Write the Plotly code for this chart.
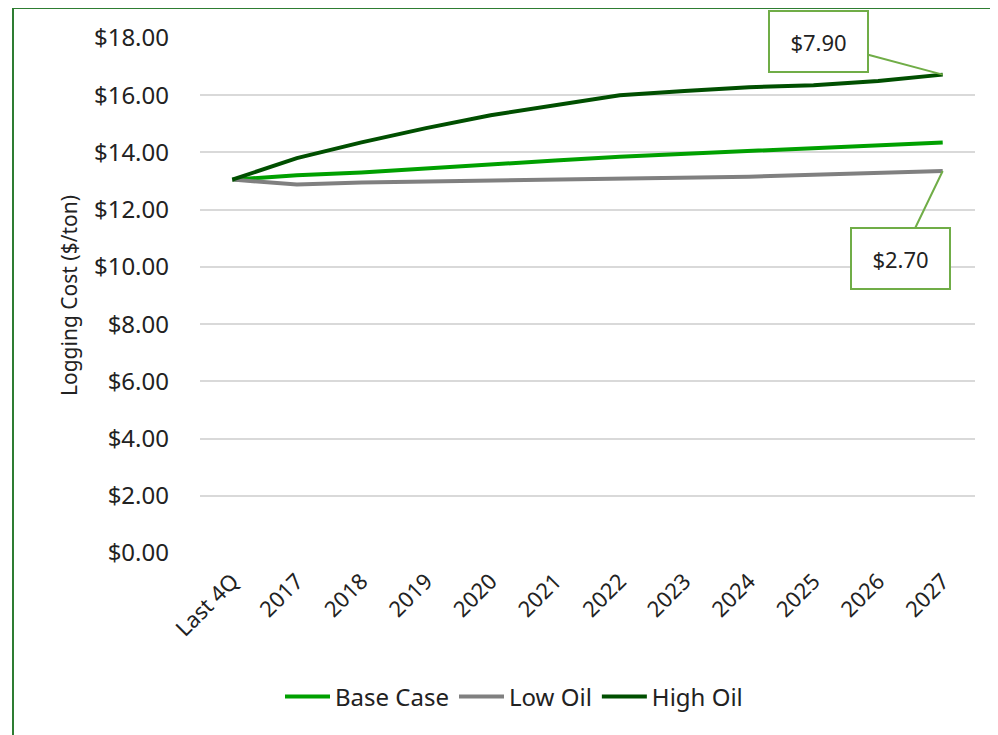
import plotly.graph_objects as go

# data
categories = ["Last 4Q", "2017", "2018", "2019", "2020", "2021",
              "2022", "2023", "2024", "2025", "2026", "2027"]
base_case = [13.05, 13.20, 13.30, 13.45, 13.60, 13.72, 13.85, 13.95, 14.05, 14.15, 14.25, 14.35]
low_oil = [13.05, 12.88, 12.95, 12.98, 13.02, 13.05, 13.10, 13.13, 13.15, 13.22, 13.27, 13.35]
high_oil = [13.05, 13.80, 14.35, 14.85, 15.30, 15.65, 16.00, 16.15, 16.28, 16.35, 16.50, 16.72]
y_ticks = [0, 2, 4, 6, 8, 10, 12, 14, 16, 18]
high_label = "$7.90"
low_label = "$2.70"

FONT = "Noto Sans, Open Sans, sans-serif"
# page body has an 8px margin, so the figure is a bit smaller than the window
W, H = 990, 727
ML, MR, MT, MB = 192, 23, 30, 182

fig = go.Figure()
fig.add_trace(go.Scatter(x=categories, y=base_case, name="Base Case", mode="lines",
                         line=dict(color="#00A000", width=4)))
fig.add_trace(go.Scatter(x=categories, y=low_oil, name="Low Oil", mode="lines",
                         line=dict(color="#808080", width=4)))
fig.add_trace(go.Scatter(x=categories, y=high_oil, name="High Oil", mode="lines",
                         line=dict(color="#004F00", width=4)))

# callouts point at the last category (by index: year-like strings get read as numbers)
last = len(categories) - 1
callout = dict(xref="x", yref="y", showarrow=True, arrowhead=0, arrowwidth=2,
               arrowcolor="#70AD47", bordercolor="#70AD47", borderwidth=2,
               bgcolor="white", width=95, height=57, axref="pixel", ayref="pixel",
               font=dict(family=FONT, size=22, color="#222"))
fig.add_annotation(x=last, y=high_oil[-1], text=high_label, ax=-124, ay=-33, **callout)
fig.add_annotation(x=last, y=low_oil[-1], text=low_label, ax=-42, ay=87, **callout)

# outer chart border (green frame, cut off at right/bottom like the screenshot)
pw, ph = W - ML - MR, H - MT - MB
fig.add_shape(type="rect", xref="paper", yref="paper",
              x0=(5 - ML) / pw, x1=(W + 20 - ML) / pw,
              y0=-(MB + 20) / ph, y1=(H - MB) / ph,
              line=dict(color="#2E7D32", width=2), layer="below")

fig.update_layout(
    width=W, height=H,
    margin=dict(l=ML, r=MR, t=MT, b=MB),
    paper_bgcolor="white", plot_bgcolor="white",
    font=dict(family=FONT, color="#222"),
    showlegend=True,
    legend=dict(orientation="h", x=(506 - ML) / pw, xanchor="center",
                y=-(689 - MT - ph) / ph, yanchor="middle",
                font=dict(size=24), itemwidth=45, tracegroupgap=0),
    xaxis=dict(type="category", range=[-0.5, last + 0.5], tickangle=-45,
               tickfont=dict(size=22), showgrid=False,
               showline=False, zeroline=False, ticklabelstandoff=10),
    yaxis=dict(range=[0, 18], tickvals=y_ticks,
               ticktext=[f"${v:.2f}" for v in y_ticks],
               tickfont=dict(size=24), gridcolor="#D9D9D9", gridwidth=1.5,
               zeroline=False, showline=False, ticklabelstandoff=30,
               title=dict(text="Logging Cost ($/ton)", font=dict(size=21), standoff=10)),
)

fig.write_html("out.html")
